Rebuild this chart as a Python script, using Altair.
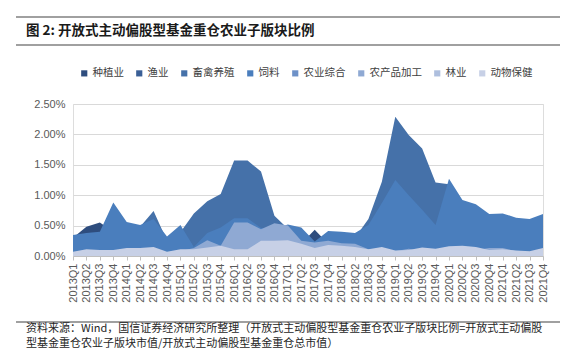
import altair as alt
import pandas as pd

quarters = ["2013Q1", "2013Q2", "2013Q3", "2013Q4", "2014Q1", "2014Q2", "2014Q3", "2014Q4",
            "2015Q1", "2015Q2", "2015Q3", "2015Q4", "2016Q1", "2016Q2", "2016Q3", "2016Q4",
            "2017Q1", "2017Q2", "2017Q3", "2017Q4", "2018Q1", "2018Q2", "2018Q3", "2018Q4",
            "2019Q1", "2019Q2", "2019Q3", "2019Q4", "2020Q1", "2020Q2", "2020Q3", "2020Q4",
            "2021Q1", "2021Q2", "2021Q3", "2021Q4"]

series_names = ["种植业", "渔业", "畜禽养殖", "饲料", "农业综合", "农产品加工", "林业", "动物保健"]
series_colors = ["#2E4D7E", "#3A5F96", "#4571A9", "#4A7EBD", "#6D91C8", "#8FA9D3", "#AEBFDE", "#C7D0E6"]

# values in percent
zhongzhi = [0.30, 0.48, 0.55, 0.40, 0.30, 0.25, 0.25, 0.20, 0.20, 0.15, 0.15, 0.15,
            0.15, 0.15, 0.15, 0.15, 0.15, 0.20, 0.43, 0.20, 0.15, 0.15, 0.15, 0.15,
            0.20, 0.20, 0.20, 0.20, 0.15, 0.10, 0.10, 0.10, 0.10, 0.10, 0.10, 0.10]
yuye = [0.05, 0.05, 0.05, 0.05, 0.05, 0.05, 0.05, 0.05, 0.05, 0.05, 0.05, 0.05,
        0.05, 0.05, 0.05, 0.05, 0.05, 0.05, 0.05, 0.05, 0.05, 0.05, 0.05, 0.05,
        0.05, 0.05, 0.05, 0.05, 0.05, 0.05, 0.05, 0.05, 0.05, 0.05, 0.05, 0.05]
xuqin = [0.25, 0.30, 0.30, 0.45, 0.45, 0.48, 0.74, 0.25, 0.39, 0.70, 0.90, 1.02,
         1.57, 1.57, 1.39, 0.66, 0.45, 0.30, 0.20, 0.30, 0.30, 0.30, 0.61, 1.22,
         2.29, 1.99, 1.77, 1.21, 1.18, 0.60, 0.55, 0.45, 0.45, 0.40, 0.40, 0.40]
siliao = [0.345, 0.38, 0.40, 0.88, 0.56, 0.51, 0.61, 0.32, 0.51, 0.15, 0.38, 0.47,
          0.62, 0.62, 0.46, 0.45, 0.52, 0.47, 0.24, 0.41, 0.40, 0.38, 0.51, 0.87,
          1.25, 1.00, 0.76, 0.51, 1.27, 0.92, 0.85, 0.69, 0.70, 0.63, 0.61, 0.69]
zonghe = [0.04, 0.04, 0.04, 0.04, 0.04, 0.04, 0.04, 0.04, 0.04, 0.04, 0.04, 0.04,
          0.04, 0.04, 0.04, 0.04, 0.04, 0.04, 0.04, 0.04, 0.04, 0.04, 0.04, 0.04,
          0.04, 0.04, 0.04, 0.04, 0.04, 0.04, 0.04, 0.04, 0.04, 0.04, 0.04, 0.04]
jiagong = [0.05, 0.05, 0.05, 0.05, 0.05, 0.05, 0.05, 0.05, 0.08, 0.13, 0.26, 0.17,
           0.55, 0.55, 0.44, 0.54, 0.50, 0.25, 0.22, 0.25, 0.21, 0.20, 0.11, 0.10,
           0.08, 0.12, 0.08, 0.08, 0.10, 0.10, 0.10, 0.13, 0.13, 0.08, 0.07, 0.08]
linye = [0.03, 0.03, 0.03, 0.03, 0.03, 0.03, 0.03, 0.03, 0.03, 0.03, 0.03, 0.03,
         0.03, 0.03, 0.03, 0.03, 0.03, 0.03, 0.03, 0.03, 0.03, 0.03, 0.03, 0.03,
         0.03, 0.03, 0.03, 0.03, 0.03, 0.03, 0.03, 0.03, 0.03, 0.03, 0.03, 0.03]
baojian = [0.07, 0.11, 0.10, 0.10, 0.13, 0.13, 0.15, 0.07, 0.11, 0.11, 0.14, 0.17,
           0.11, 0.11, 0.25, 0.25, 0.26, 0.20, 0.13, 0.18, 0.17, 0.15, 0.11, 0.15,
           0.09, 0.10, 0.14, 0.12, 0.16, 0.17, 0.15, 0.10, 0.11, 0.09, 0.08, 0.13]

y_ticks = [0, 0.005, 0.01, 0.015, 0.02, 0.025]

title_text = "图 2: 开放式主动偏股型基金重仓农业子版块比例"
footer_line1 = "资料来源：Wind，国信证券经济研究所整理（开放式主动偏股型基金重仓农业子版块比例=开放式主动偏股"
footer_line2 = "型基金重仓农业子版块市值/开放式主动偏股型基金重仓总市值）"

all_series = [zhongzhi, yuye, xuqin, siliao, zonghe, jiagong, linye, baojian]
rows = []
for name, vals in zip(series_names, all_series):
    for q, v in zip(quarters, vals):
        rows.append({"quarter": q, "series": name, "value": v / 100.0})
df = pd.DataFrame(rows)

CJK = "Noto Sans CJK SC"
LAT = "Liberation Sans"

legend = alt.Legend(
    orient="none", legendX=6, legendY=-36, direction="horizontal", columns=8,
    title=None, symbolType="square", symbolSize=38, symbolStrokeWidth=0,
    symbolOpacity=1, labelFont=CJK, labelFontSize=10.5, labelColor="#404040",
    labelOffset=3, columnPadding=10, padding=0,
)

x_enc = alt.X(
    "quarter:O", sort=quarters,
    scale=alt.Scale(type="point", padding=0),
    axis=alt.Axis(title=None, labelAngle=270, labelAlign="right", labelBaseline="middle",
                  labelFont=LAT, labelFontSize=11, labelColor="#595959", labelPadding=3,
                  tickSize=4, tickColor="#BFBFBF", domainColor="#BFBFBF", grid=False,
                  labelOverlap=False),
)
y_enc = alt.Y(
    "value:Q", stack=None,
    scale=alt.Scale(domain=[0, 0.025], nice=False),
    axis=alt.Axis(title=None, values=y_ticks, format=".2%", labelFont=LAT, labelFontSize=11,
                  labelColor="#595959", labelPadding=8, ticks=False, domain=False,
                  grid=True, gridColor="#D9D9D9", gridWidth=1),
)
color_enc = alt.Color("series:N", scale=alt.Scale(domain=series_names, range=series_colors),
                      legend=legend)

layers = []
for name in series_names:
    layers.append(
        alt.Chart(df).transform_filter(alt.datum.series == name)
        .mark_area(opacity=1, interpolate="linear")
        .encode(x=x_enc, y=y_enc, color=color_enc)
    )

one = pd.DataFrame({"a": [0]})
rule_top = alt.Chart(one).mark_rule(color="#808080", strokeWidth=1.5).encode(
    x=alt.value(-57), x2=alt.value(487), y=alt.value(-87))
rule_mid = alt.Chart(one).mark_rule(color="#808080", strokeWidth=1.5).encode(
    x=alt.value(-57), x2=alt.value(487), y=alt.value(-59))
rule_foot = alt.Chart(one).mark_rule(color="#808080", strokeWidth=1.5).encode(
    x=alt.value(-57), x2=alt.value(487), y=alt.value(218))

title = alt.Chart(pd.DataFrame({"t": [title_text]})).mark_text(
    align="left", baseline="middle", font=CJK, fontSize=13.5, fontWeight="bold", color="#1a1a1a"
).encode(x=alt.value(-47), y=alt.value(-73), text="t:N")

foot1 = alt.Chart(pd.DataFrame({"t": [footer_line1]})).mark_text(
    align="left", baseline="middle", font=CJK, fontSize=11, color="#262626"
).encode(x=alt.value(-47), y=alt.value(225), text="t:N")
foot2 = alt.Chart(pd.DataFrame({"t": [footer_line2]})).mark_text(
    align="left", baseline="middle", font=CJK, fontSize=11, color="#262626"
).encode(x=alt.value(-47), y=alt.value(239.5), text="t:N")

chart = alt.layer(*layers, rule_top, rule_mid, rule_foot, title, foot1, foot2).properties(
    width=470, height=152,
    autosize=alt.AutoSizeParams(type="none"),
    padding={"left": 65, "top": 96, "right": 17, "bottom": 93},
).configure_view(stroke=None).configure(background="white")

chart.save("out.html", embed_options={"renderer": "svg", "actions": False})
